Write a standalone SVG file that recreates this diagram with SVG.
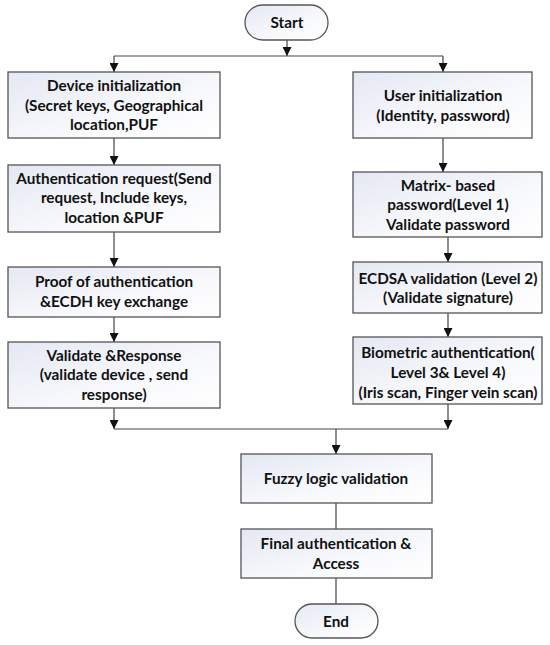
<svg xmlns="http://www.w3.org/2000/svg" width="550" height="645" viewBox="0 0 550 645">
<defs>
<linearGradient id="g" x1="0" y1="0" x2="1" y2="1">
<stop offset="0" stop-color="#e4e8f3"/>
<stop offset="0.6" stop-color="#f8f9fc"/>
<stop offset="1" stop-color="#ffffff"/>
</linearGradient>
<marker id="b" viewBox="0 0 10 14" refX="14" refY="7" markerWidth="12" markerHeight="9" markerUnits="userSpaceOnUse" orient="auto">
<path d="M0,0 L14,7 L0,14 z" fill="#111"/>
</marker>
</defs>
<style>
.box{fill:url(#g);stroke:#555;stroke-width:1.3}
.t{font-family:Lato,"Liberation Sans",sans-serif;font-weight:bold;font-size:15.3px;fill:#111;text-anchor:middle}
.c{fill:none;stroke:#444;stroke-width:1.2}
.ar{marker-end:url(#b)}
</style>
<rect width="550" height="645" fill="#fff"/>
<g id="connectors">
<path class="c ar" d="M287,40 V56"/>
<path class="c" d="M114,56 H443"/>
<path class="c ar" d="M114,56 V72"/>
<path class="c ar" d="M443,56 V72"/>
<path class="c ar" d="M114,138 V165"/>
<path class="c ar" d="M114,232 V267"/>
<path class="c ar" d="M114,317 V342"/>
<path class="c ar" d="M443,138 V172"/>
<path class="c ar" d="M448,237 V262"/>
<path class="c ar" d="M448,313 V337"/>
<path class="c ar" d="M114,408 V429"/>
<path class="c ar" d="M448,404 V429"/>
<path class="c" d="M114,429 H448"/>
<path class="c ar" d="M336,429 V454"/>
<path class="c" d="M336,503 V529"/>
<path class="c" d="M336,578 V604"/>
</g>
<g id="start">
<rect class="box" x="245" y="5" width="83" height="35" rx="17.5"/>
<text class="t" x="287" y="28">Start</text>
</g>
<g id="device-init">
<rect class="box" x="8" y="72" width="212" height="66"/>
<text class="t" x="114" y="91">Device initialization</text>
<text class="t" x="114" y="110.5">(Secret keys, Geographical</text>
<text class="t" x="114" y="130">location,PUF</text>
</g>
<g id="auth-request">
<rect class="box" x="8" y="165" width="212" height="67"/>
<text class="t" x="114" y="183.5">Authentication request(Send</text>
<text class="t" x="114" y="203">request, Include keys,</text>
<text class="t" x="114" y="222.5">location &amp;PUF</text>
</g>
<g id="proof">
<rect class="box" x="8" y="267" width="212" height="50"/>
<text class="t" x="114" y="287">Proof of authentication</text>
<text class="t" x="114" y="306.5">&amp;ECDH key exchange</text>
</g>
<g id="validate-response">
<rect class="box" x="8" y="342" width="212" height="66"/>
<text class="t" x="114" y="360.5">Validate &amp;Response</text>
<text class="t" x="114" y="380">(validate device , send</text>
<text class="t" x="114" y="399.5">response)</text>
</g>
<g id="user-init">
<rect class="box" x="353" y="72" width="179" height="66"/>
<text class="t" x="443" y="100.5">User initialization</text>
<text class="t" x="443" y="120.5">(Identity, password)</text>
</g>
<g id="matrix">
<rect class="box" x="353" y="172" width="189" height="65"/>
<text class="t" x="448" y="190.5">Matrix- based</text>
<text class="t" x="448" y="210">password(Level 1)</text>
<text class="t" x="448" y="229.5">Validate password</text>
</g>
<g id="ecdsa">
<rect class="box" x="353" y="262" width="189" height="51"/>
<text class="t" x="448" y="283.5">ECDSA validation (Level 2)</text>
<text class="t" x="448" y="302.5">(Validate signature)</text>
</g>
<g id="biometric">
<rect class="box" x="353" y="337" width="189" height="67"/>
<text class="t" x="448" y="357.5">Biometric authentication(</text>
<text class="t" x="448" y="377.5">Level 3&amp; Level 4)</text>
<text class="t" x="448" y="397.5">(Iris scan, Finger vein scan)</text>
</g>
<g id="fuzzy">
<rect class="box" x="241" y="454" width="191" height="49"/>
<text class="t" x="336" y="483.5">Fuzzy logic validation</text>
</g>
<g id="final">
<rect class="box" x="241" y="529" width="191" height="49"/>
<text class="t" x="336" y="548.5">Final authentication &amp;</text>
<text class="t" x="336" y="568.5">Access</text>
</g>
<g id="end">
<rect class="box" x="295" y="604" width="83" height="34" rx="17"/>
<text class="t" x="336" y="626.5">End</text>
</g>
</svg>
